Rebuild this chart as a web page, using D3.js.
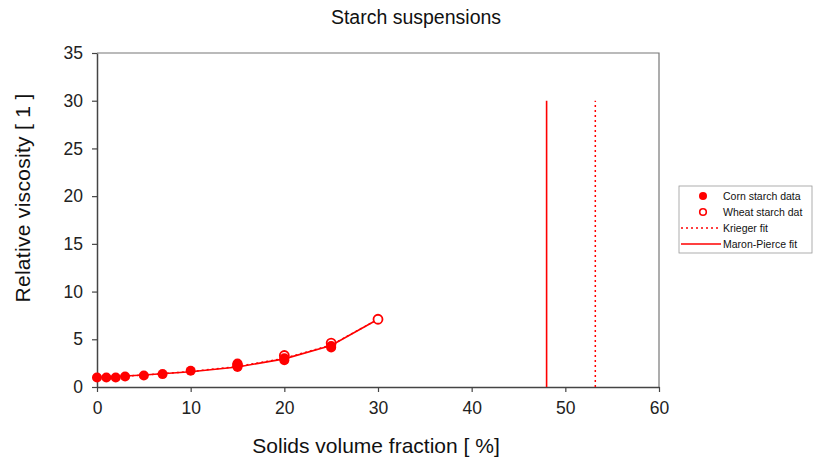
<!DOCTYPE html>
<html>
<head>
<meta charset="utf-8">
<script src="https://cdn.jsdelivr.net/npm/d3@7"></script>
<style>
  body { margin: 0; background: #fff; }
  text { font-family: "Liberation Sans", Arial, sans-serif; }
</style>
</head>
<body>
<svg id="chart" width="815" height="464"></svg>
<script>
// data
var cornX = [0, 1, 2, 3, 5, 7, 10, 15, 15, 20, 20, 25, 25];
var cornY = [1.0, 1.0, 1.0, 1.1, 1.2, 1.35, 1.7, 2.1, 2.45, 2.8, 3.0, 4.15, 4.3];
var wheatX = [15, 20, 25, 30];
var wheatY = [2.3, 3.3, 4.6, 7.1];
// fits: curve over the data, then the asymptote at max packing (null = gap)
var kriegerX = [0, 5, 10, 15, 20, 25, 30, null, 53.2, 53.2];
var kriegerY = [1.0, 1.25, 1.62, 2.15, 3.0, 4.4, 7.1, null, 0, 30];
var maronX = [0, 5, 10, 15, 20, 25, 30, null, 48, 48];
var maronY = [1.0, 1.25, 1.6, 2.1, 2.95, 4.35, 7.1, null, 0, 30];
var xTicks = [0, 10, 20, 30, 40, 50, 60];
var yTicks = [0, 5, 10, 15, 20, 25, 30, 35];
var legendLabels = ["Corn starch data", "Wheat starch dat", "Krieger fit", "Maron-Pierce fit"];

var red = "#ff0000";
var margin = {top: 53, right: 156, bottom: 77, left: 97},
    width = 815 - margin.left - margin.right,
    height = 464 - margin.top - margin.bottom;

var svg = d3.select("#chart");
var g = svg.append("g")
    .attr("transform", "translate(" + margin.left + "," + margin.top + ")");

var x = d3.scaleLinear().domain([0, 60]).range([0, width]);
var y = d3.scaleLinear().domain([0, 35]).range([height, 0]);

// frame (top and right)
g.append("path")
  .attr("d", "M0,0H" + width + "V" + height)
  .attr("fill", "none")
  .attr("stroke", "#777")
  .attr("stroke-width", 1.2);

// axes
var xAxis = g.append("g")
  .attr("transform", "translate(0," + height + ")")
  .call(d3.axisBottom(x).tickValues(xTicks).tickSize(5).tickPadding(10).tickSizeOuter(0));
var yAxis = g.append("g")
  .call(d3.axisLeft(y).tickValues(yTicks).tickSize(5).tickPadding(9).tickSizeOuter(0));
[xAxis, yAxis].forEach(function(a) {
  a.select(".domain").attr("stroke", "#444").attr("stroke-width", 1.5);
  a.selectAll(".tick line").attr("stroke", "#444").attr("stroke-width", 1.2);
  a.selectAll(".tick text").attr("font-size", 17.5).attr("fill", "#222")
    .style("font-family", "Liberation Sans, Arial, sans-serif");
});

// fit lines
function toPts(xs, ys) {
  return xs.map(function(v, i) { return v === null ? null : [v, ys[i]]; });
}
var line = d3.line()
  .defined(function(d) { return d !== null; })
  .x(function(d) { return x(d[0]); })
  .y(function(d) { return y(d[1]); });

g.append("path")
  .datum(toPts(kriegerX, kriegerY))
  .attr("d", line)
  .attr("fill", "none")
  .attr("stroke", red)
  .attr("stroke-width", 1.5)
  .attr("stroke-dasharray", "2,3");

g.append("path")
  .datum(toPts(maronX, maronY))
  .attr("d", line)
  .attr("fill", "none")
  .attr("stroke", red)
  .attr("stroke-width", 1.6);

// data points
g.selectAll(".wheat")
  .data(wheatX)
  .enter().append("circle")
  .attr("class", "wheat")
  .attr("cx", function(d) { return x(d); })
  .attr("cy", function(d, i) { return y(wheatY[i]); })
  .attr("r", 4.5)
  .attr("fill", "#fff")
  .attr("stroke", red)
  .attr("stroke-width", 1.8);

g.selectAll(".corn")
  .data(cornX)
  .enter().append("circle")
  .attr("class", "corn")
  .attr("cx", function(d) { return x(d); })
  .attr("cy", function(d, i) { return y(cornY[i]); })
  .attr("r", 5)
  .attr("fill", red);

// title and axis labels
svg.append("text")
  .attr("x", 416).attr("y", 24)
  .attr("text-anchor", "middle")
  .attr("font-size", 19.5).attr("fill", "#111")
  .text("Starch suspensions");

svg.append("text")
  .attr("x", 376).attr("y", 453)
  .attr("text-anchor", "middle")
  .attr("font-size", 21).attr("fill", "#111")
  .text("Solids volume fraction [ %]");

svg.append("text")
  .attr("transform", "translate(30,198) rotate(-90)")
  .attr("text-anchor", "middle")
  .attr("font-size", 21).attr("fill", "#111")
  .attr("letter-spacing", 0.3)
  .text("Relative viscosity [ 1 ]");

// legend
var lg = svg.append("g").attr("transform", "translate(679,186)");
lg.append("rect")
  .attr("width", 133).attr("height", 67)
  .attr("fill", "#fff").attr("stroke", "#999").attr("stroke-width", 0.8);

var items = lg.selectAll(".item")
  .data(legendLabels)
  .enter().append("g")
  .attr("transform", function(d, i) { return "translate(0," + (10 + i * 16) + ")"; });

items.append("text")
  .attr("x", 44).attr("y", 4)
  .attr("font-size", 10.5).attr("fill", "#111")
  .text(function(d) { return d; });

items.filter(function(d, i) { return i === 0; })
  .append("circle").attr("cx", 24).attr("r", 4).attr("fill", red);
items.filter(function(d, i) { return i === 1; })
  .append("circle").attr("cx", 24).attr("r", 3.3)
  .attr("fill", "#fff").attr("stroke", red).attr("stroke-width", 1.6);
items.filter(function(d, i) { return i === 2; })
  .append("line").attr("x1", 2).attr("x2", 42)
  .attr("stroke", red).attr("stroke-width", 1.5).attr("stroke-dasharray", "2,3");
items.filter(function(d, i) { return i === 3; })
  .append("line").attr("x1", 2).attr("x2", 42)
  .attr("stroke", red).attr("stroke-width", 1.5);
</script>
</body>
</html>
